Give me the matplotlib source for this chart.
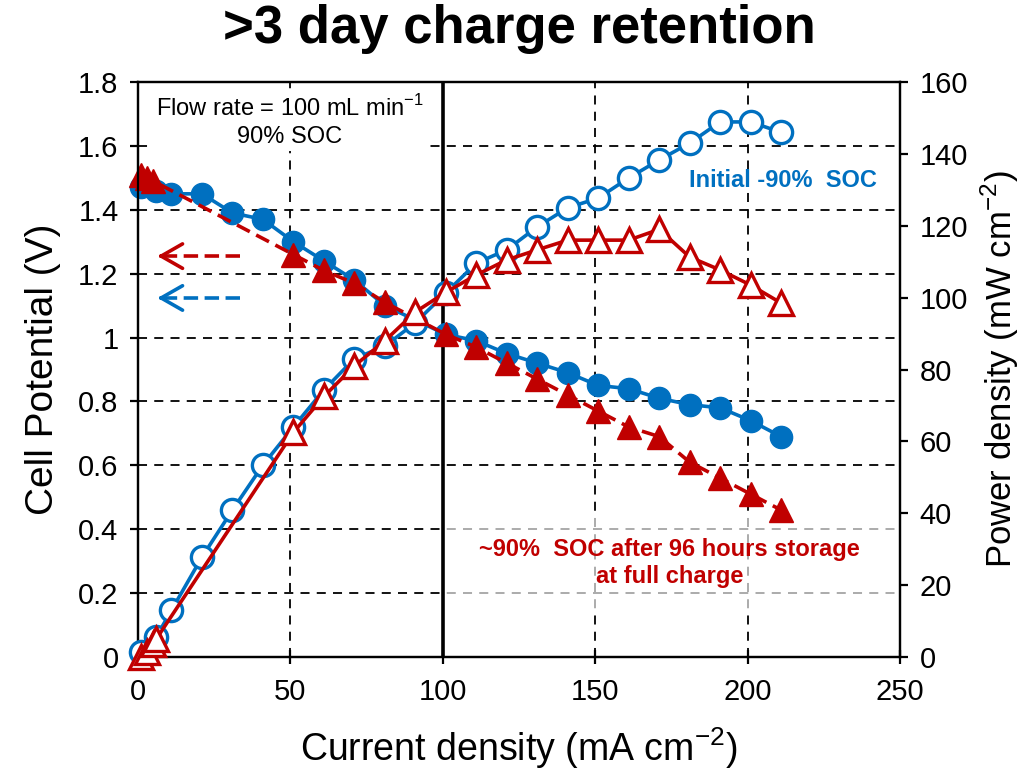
import matplotlib
matplotlib.use('Agg')
import matplotlib.pyplot as plt
from matplotlib.patches import Rectangle

plt.rcParams['font.family'] = ['Liberation Sans', 'DejaVu Sans']
plt.rcParams['mathtext.fontset'] = 'custom'
plt.rcParams['mathtext.rm'] = 'Liberation Sans'

BLUE = '#0070C0'
RED = '#C00000'

# initial ~90% SOC
blue_x = [1, 6, 11, 21, 31, 41, 51, 61, 71, 81, 101, 111, 121, 131, 141,
          151, 161, 171, 181, 191, 201, 211]
blue_v = [1.47, 1.46, 1.45, 1.45, 1.39, 1.37, 1.30, 1.24, 1.18, 1.10, 1.01,
          0.99, 0.95, 0.92, 0.89, 0.85, 0.84, 0.81, 0.79, 0.78, 0.74, 0.69]
blue_px = [1, 6, 11, 21, 31, 41, 51, 61, 71, 81, 91, 101, 111, 121, 131, 141,
           151, 161, 171, 181, 191, 201, 211]
blue_p = [1.5, 5.6, 13.0, 27.8, 40.9, 53.4, 64.0, 74.3, 83.0, 86.5, 93.0,
          101.3, 109.6, 113.3, 119.7, 125.0, 127.7, 133.3, 138.3, 143.0,
          148.9, 148.9, 146.0]

# ~90% SOC after 96 h storage
red_x = [1, 3, 5, 51, 61, 71, 81, 101, 111, 121, 131, 141, 151, 161, 171,
         181, 191, 201, 211]
red_v = [1.51, 1.50, 1.49, 1.26, 1.21, 1.17, 1.11, 1.01, 0.97, 0.92, 0.87,
         0.82, 0.77, 0.72, 0.69, 0.61, 0.56, 0.51, 0.46]
red_px = [1, 3, 5, 6, 51, 61, 71, 81, 91, 101, 111, 121, 131, 141, 151, 161,
          171, 181, 191, 201, 211]
red_p = [0.0, 1.5, 3.5, 5.0, 62.5, 72.5, 81.0, 88.0, 96.0, 101.5, 106.3,
         110.5, 113.3, 116.0, 116.0, 116.0, 119.0, 111.3, 107.7, 103.5, 98.5]

fig = plt.figure(figsize=(10.25, 7.71), dpi=100)
ax = fig.add_axes([0.1346, 0.1479, 0.7434, 0.7457])
ax2 = ax.twinx()

# grid
for gx in [50, 150, 200]:
    ax.axvline(gx, color='black', lw=1.3, ls=(0, (5, 4)), zorder=1)
for gy in [0.2, 0.4, 0.6, 0.8, 1.0, 1.2, 1.4, 1.6]:
    ax.axhline(gy, color='black', lw=1.3, ls=(0, (5, 4)), zorder=1)
ax.axvline(100, color='black', lw=2.6, zorder=1.8)
ax.add_patch(Rectangle((100.8, 0.15), 150, 0.29, facecolor='white',
                       alpha=0.65, edgecolor='none', zorder=1.5))

# cell potential
ax.plot(blue_x, blue_v, '-o', color=BLUE, lw=2.6, ms=16, mfc=BLUE, mec=BLUE,
        zorder=3, clip_on=False)
ax.plot(red_x, red_v, '^', ls=(0, (4, 2)), color=RED, lw=2.6, ms=17,
        mfc=RED, mec=RED, zorder=4, clip_on=False)

# power density
ax2.plot(blue_px, blue_p, '-o', color=BLUE, lw=2.6, ms=16, mfc='white',
         mec=BLUE, mew=2.4, zorder=3, clip_on=False)
ax2.plot(red_px, red_p, '-^', color=RED, lw=2.6, ms=17, mfc='white',
         mec=RED, mew=2.4, zorder=4, clip_on=False)

# arrows
for yv, col in [(1.255, RED), (1.124, BLUE)]:
    ax.plot([33.4, 8], [yv, yv], color=col, lw=2.6, ls=(0, (4, 1.8)), zorder=3)
    ax.annotate('', xy=(5.5, yv), xytext=(9.5, yv),
                arrowprops=dict(arrowstyle='->,head_length=0.7,head_width=0.4',
                                color=col, lw=2.6, mutation_scale=22), zorder=3)

ax.set_xlim(0, 250)
ax.set_ylim(0, 1.8)
ax2.set_ylim(0, 160)
ax.set_xticks([0, 50, 100, 150, 200, 250])
ax.set_yticks([0, 0.2, 0.4, 0.6, 0.8, 1.0, 1.2, 1.4, 1.6, 1.8])
ax.set_yticklabels(['0', '0.2', '0.4', '0.6', '0.8', '1', '1.2', '1.4',
                    '1.6', '1.8'])
ax2.set_yticks(range(0, 161, 20))

for a in (ax, ax2):
    for s in a.spines.values():
        s.set_linewidth(1.6)
ax.tick_params(axis='x', direction='inout', length=10, width=1.6,
               labelsize=21, pad=10)
ax.tick_params(axis='y', direction='out', length=6, width=1.6,
               labelsize=21, pad=8)
ax2.tick_params(axis='y', direction='out', length=6, width=1.6,
                labelsize=21, pad=8)

ax.set_xlabel('Current density (mA cm$^{-2}$)', fontsize=27, labelpad=14)
ax.set_ylabel('Cell Potential (V)', fontsize=28, labelpad=12)
ax2.set_ylabel('Power density (mW cm$^{-2}$)', fontsize=25, labelpad=8)

fig.suptitle('>3 day charge retention', fontsize=38, fontweight='bold',
             x=0.507, y=0.995)

ax.text(49.8, 1.675, 'Flow rate = 100 mL min$^{-1}$\n90% SOC', ha='center',
        va='center', fontsize=17, linespacing=1.3, zorder=5,
        bbox=dict(facecolor='white', edgecolor='none', pad=2))
ax2.text(211.5, 132.5, 'Initial -90%  SOC', ha='center', va='center',
         fontsize=17, fontweight='bold', color=BLUE, zorder=5)
ax2.text(174.4, 26.2, '~90%  SOC after 96 hours storage\nat full charge',
         ha='center', va='center', fontsize=17, fontweight='bold', color=RED,
         linespacing=1.2, zorder=5)

fig.savefig('out.png', dpi=100)
